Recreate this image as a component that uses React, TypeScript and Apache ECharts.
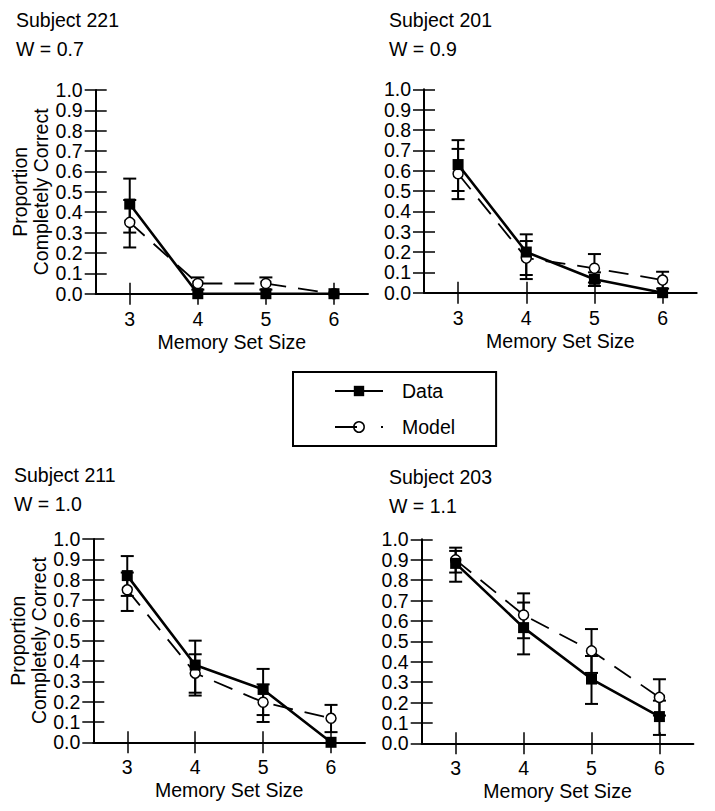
import React, { useEffect, useRef } from "react";
import * as echarts from "echarts";

// ---------------- data ----------------
const categories = ["3", "4", "5", "6"];

const subjects = ["Subject 221", "Subject 201", "Subject 211", "Subject 203"];
const weights = ["W = 0.7", "W = 0.9", "W = 1.0", "W = 1.1"];

const data221 = [0.44, 0.0, 0.0, 0.0];
const model221 = [0.35, 0.05, 0.05, 0.0];
const dataLow221 = [0.3, null, null, null];
const dataHigh221 = [0.565, null, null, null];
const modelLow221 = [0.227, 0.02, 0.02, null];
const modelHigh221 = [0.46, 0.08, 0.08, null];

const data201 = [0.63, 0.2, 0.066, 0.0];
const model201 = [0.585, 0.17, 0.12, 0.062];
const dataLow201 = [0.5, 0.087, 0.033, null];
const dataHigh201 = [0.75, 0.287, 0.1, null];
const modelLow201 = [0.46, 0.067, 0.05, 0.02];
const modelHigh201 = [0.707, 0.254, 0.19, 0.103];

const data211 = [0.82, 0.38, 0.26, 0.0];
const model211 = [0.75, 0.34, 0.197, 0.118];
const dataLow211 = [0.72, 0.244, 0.134, null];
const dataHigh211 = [0.916, 0.5, 0.361, null];
const modelLow211 = [0.646, 0.23, 0.1, 0.05];
const modelHigh211 = [0.835, 0.433, 0.285, 0.184];

const data203 = [0.882, 0.567, 0.315, 0.131];
const model203 = [0.899, 0.629, 0.453, 0.225];
const dataLow203 = [0.792, 0.436, 0.193, 0.041];
const dataHigh203 = [0.959, 0.69, 0.428, 0.209];
const modelLow203 = [0.837, 0.515, 0.345, 0.136];
const modelHigh203 = [0.943, 0.735, 0.56, 0.314];

const yTicks = ["0.0", "0.1", "0.2", "0.3", "0.4", "0.5", "0.6", "0.7", "0.8", "0.9", "1.0"];

const panels = [
  { data: data221, model: model221, dLo: dataLow221, dHi: dataHigh221, mLo: modelLow221, mHi: modelHigh221 },
  { data: data201, model: model201, dLo: dataLow201, dHi: dataHigh201, mLo: modelLow201, mHi: modelHigh201 },
  { data: data211, model: model211, dLo: dataLow211, dHi: dataHigh211, mLo: modelLow211, mHi: modelHigh211 },
  { data: data203, model: model203, dLo: dataLow203, dHi: dataHigh203, mLo: modelLow203, mHi: modelHigh203 },
];

// ---------------- layout ----------------
const FONT = "'Liberation Sans', Arial, Helvetica, sans-serif";
const FS = 19.5;
const grids = [
  { left: 95.7, top: 90, width: 272.3, height: 203.7 },
  { left: 424, top: 89.3, width: 272.7, height: 203.4 },
  { left: 93.3, top: 539, width: 271.7, height: 203.3 },
  { left: 421.7, top: 539.3, width: 271.7, height: 204 },
];
const titlePos = [
  { left: 16, top: 5 },
  { left: 389, top: 5 },
  { left: 14, top: 460 },
  { left: 389, top: 462.5 },
];
const showYName = [true, false, true, false];

function errBars(lo: (number | null)[], hi: (number | null)[]) {
  const out: number[][] = [];
  lo.forEach((l, i) => {
    const h = hi[i];
    if (l !== null && h !== null) out.push([i, l, h]);
  });
  return out;
}

function renderErr(params: any, api: any) {
  const x = api.value(0);
  const lo = api.coord([x, api.value(1)]);
  const hi = api.coord([x, api.value(2)]);
  const w = 6.5;
  const style = { stroke: "#000", lineWidth: 2 };
  return {
    type: "group",
    children: [
      { type: "line", shape: { x1: lo[0], y1: lo[1], x2: hi[0], y2: hi[1] }, style },
      { type: "line", shape: { x1: lo[0] - w, y1: lo[1], x2: lo[0] + w, y2: lo[1] }, style },
      { type: "line", shape: { x1: hi[0] - w, y1: hi[1], x2: hi[0] + w, y2: hi[1] }, style },
    ],
  };
}

function buildOption() {
  const xAxis: any[] = [];
  const yAxis: any[] = [];
  const series: any[] = [];
  const title: any[] = [];

  panels.forEach((p, i) => {
    title.push({
      text: subjects[i] + "\n" + weights[i],
      left: titlePos[i].left,
      top: titlePos[i].top,
      padding: 0,
      textStyle: { fontSize: FS, fontWeight: "normal", color: "#000", fontFamily: FONT, lineHeight: 29 },
    });
    xAxis.push({
      gridIndex: i,
      type: "category",
      data: categories,
      boundaryGap: true,
      position: "bottom",
      axisLine: { show: true, onZero: false, lineStyle: { color: "#000", width: 2 } },
      axisTick: { show: true, alignWithLabel: true, length: 11, lineStyle: { color: "#000", width: 1.5 } },
      axisLabel: { fontSize: FS, color: "#000", fontFamily: FONT, margin: 15 },
      splitLine: { show: false },
      name: "Memory Set Size",
      nameLocation: "middle",
      nameGap: 38,
      nameTextStyle: { fontSize: FS, color: "#000", fontFamily: FONT },
    });
    xAxis.push({
      gridIndex: i,
      type: "category",
      data: categories,
      boundaryGap: true,
      position: "bottom",
      axisLine: { show: false, onZero: false },
      axisTick: { show: true, inside: true, alignWithLabel: true, length: 11, lineStyle: { color: "#000", width: 1.5 } },
      axisLabel: { show: false },
      splitLine: { show: false },
    });
    yAxis.push({
      gridIndex: i,
      type: "value",
      min: 0,
      max: 1,
      interval: 0.1,
      position: "left",
      axisLine: { show: true, onZero: false, lineStyle: { color: "#000", width: 2 } },
      axisTick: { show: true, length: 11, lineStyle: { color: "#000", width: 1.5 } },
      axisLabel: {
        fontSize: FS,
        color: "#000",
        fontFamily: FONT,
        margin: 13,
        formatter: (v: number) => yTicks[Math.round(v * 10)],
      },
      splitLine: { show: false },
      name: showYName[i] ? "Proportion\nCompletely Correct" : "",
      nameLocation: "middle",
      nameGap: 42,
      nameTextStyle: { fontSize: FS, color: "#000", fontFamily: FONT, lineHeight: 21 },
    });
    yAxis.push({
      gridIndex: i,
      type: "value",
      min: 0,
      max: 1,
      interval: 0.1,
      position: "left",
      axisLine: { show: false, onZero: false },
      axisTick: { show: true, inside: true, length: 11, lineStyle: { color: "#000", width: 1.5 } },
      axisLabel: { show: false },
      splitLine: { show: false },
    });

    const xi = i * 2;
    const yi = i * 2;
    series.push({
      type: "custom",
      xAxisIndex: xi,
      yAxisIndex: yi,
      renderItem: renderErr,
      data: errBars(p.mLo, p.mHi),
      encode: { x: 0, y: [1, 2] },
      z: 2,
      silent: true,
    });
    series.push({
      type: "custom",
      xAxisIndex: xi,
      yAxisIndex: yi,
      renderItem: renderErr,
      data: errBars(p.dLo, p.dHi),
      encode: { x: 0, y: [1, 2] },
      z: 2,
      silent: true,
    });
    series.push({
      name: "Model",
      type: "line",
      xAxisIndex: xi,
      yAxisIndex: yi,
      data: p.model,
      symbol: "circle",
      symbolSize: 10,
      itemStyle: { color: "#fff", borderColor: "#000", borderWidth: 1.5 },
      lineStyle: { color: "#000", width: 1.8, type: [20, 12] },
      z: 3,
    });
    series.push({
      name: "Data",
      type: "line",
      xAxisIndex: xi,
      yAxisIndex: yi,
      data: p.data,
      symbol: "rect",
      symbolSize: 11,
      itemStyle: { color: "#000" },
      lineStyle: { color: "#000", width: 2.6 },
      z: 4,
    });
  });

  return {
    animation: false,
    backgroundColor: "#fff",
    textStyle: { fontFamily: FONT },
    title,
    grid: grids.map((g) => ({ ...g, containLabel: false })),
    xAxis,
    yAxis,
    series,
    legend: {
      show: true,
      orient: "vertical",
      left: 293,
      top: 372,
      padding: [9, 41, 9, 41],
      borderColor: "#000",
      borderWidth: 2,
      itemWidth: 48,
      itemHeight: 13,
      itemGap: 16,
      selectedMode: false,
      textStyle: { fontSize: FS, color: "#000", fontFamily: FONT, padding: [0, 0, 0, 14] },
      data: [
        { name: "Data" },
        {
          name: "Model",
          itemStyle: { color: "rgba(0,0,0,0)", borderColor: "#000", borderWidth: 1.5 },
          lineStyle: { type: [22, 24, 2, 10], width: 1.8 },
        },
      ],
    },
  };
}

export default function App() {
  const ref = useRef<HTMLDivElement>(null);
  useEffect(() => {
    if (!ref.current) return;
    const chart = echarts.init(ref.current, null, { renderer: "svg" });
    chart.setOption(buildOption() as any);
    return () => chart.dispose();
  }, []);
  return (
    <div
      ref={ref}
      style={{ position: "fixed", left: 0, top: 0, width: 715, height: 811, background: "#fff" }}
    />
  );
}
